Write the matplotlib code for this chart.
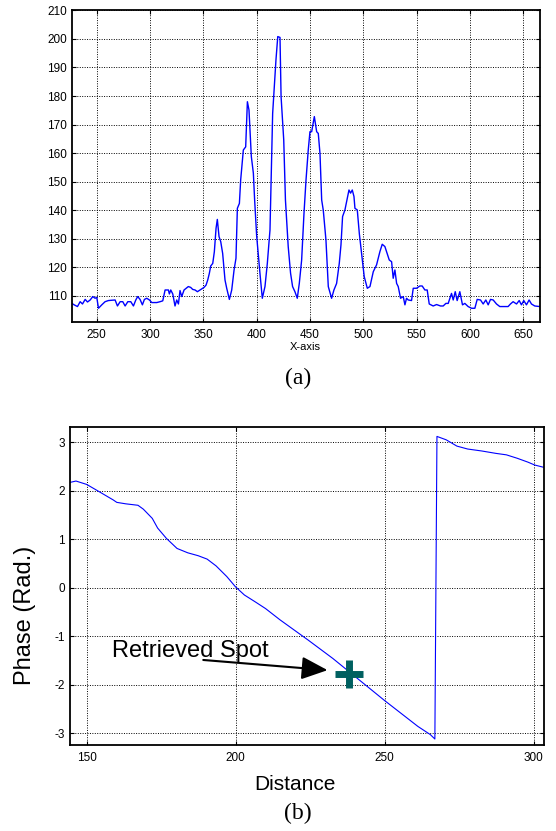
import numpy as np
import matplotlib
matplotlib.use("Agg")
import matplotlib.pyplot as plt

plt.rcParams["font.family"] = ["Liberation Sans", "DejaVu Sans"]
plt.rcParams["axes.unicode_minus"] = False

# (a) intensity profile along the x-axis
profile_x = [226.6, 228.8, 231.9, 234.4, 236.6, 239.1, 241.3, 243.8, 246.3, 248.4,
             250.0, 251.6, 254.7, 257.8, 260.9, 267.2, 269.4, 271.9, 274.4, 276.6,
             279.1, 281.9, 284.4, 286.6, 288.4, 290.6, 292.8, 294.7, 296.9, 299.4,
             301.6, 306.3, 309.4, 311.9, 314.1, 317.2, 318.1, 319.4, 321.3, 323.4,
             325.0, 326.6, 328.1, 329.7, 331.9, 335.9, 338.1, 340.0, 342.2, 344.4,
             346.9, 350.6, 352.5, 354.1, 355.6, 356.9, 358.8, 360.3, 361.9, 363.1,
             364.7, 366.3, 368.1, 370.3, 371.9, 374.4, 376.6, 378.8, 380.6, 381.9,
             383.8, 385.0, 387.5, 389.7, 391.3, 392.8, 395.0, 396.9, 398.1, 400.0,
             403.1, 405.3, 407.8, 410.0, 412.5, 415.0, 418.1, 419.8, 421.9, 422.9,
             425.4, 427.0, 429.6, 431.8, 433.7, 435.9, 438.1, 440.0, 442.2, 444.4,
             446.3, 448.4, 450.0, 451.6, 454.1, 456.3, 457.8, 459.4, 461.0, 462.5,
             465.0, 467.2, 470.3, 472.5, 475.0, 477.5, 479.1, 480.6, 482.8, 485.0,
             486.6, 488.1, 489.7, 491.3, 492.2, 494.4, 496.3, 498.4, 500.9, 503.8,
             506.3, 509.4, 512.5, 515.6, 517.8, 520.3, 521.9, 524.4, 526.6, 528.1,
             529.7, 531.3, 532.8, 535.0, 537.5, 539.1, 540.6, 542.2, 545.3, 546.9,
             550.0, 553.1, 555.3, 557.8, 560.0, 561.9, 565.6, 568.8, 572.5, 575.0,
             577.5, 579.7, 582.8, 584.4, 586.3, 588.1, 590.6, 593.1, 595.3, 598.4,
             601.6, 604.7, 606.9, 610.0, 612.5, 615.0, 617.2, 619.4, 621.9, 625.0,
             628.1, 631.3, 635.9, 638.1, 640.6, 643.8, 646.3, 648.4, 650.6, 653.1,
             655.6, 657.8, 660.9, 665.6]
profile_y = [107.4, 106.9, 106.3, 108.0, 107.2, 108.8, 107.9, 108.6, 109.8, 109.2,
             109.5, 105.7, 106.9, 108.0, 108.4, 108.6, 106.5, 108.0, 108.0, 106.5,
             108.0, 108.0, 106.5, 108.6, 109.8, 108.8, 106.9, 108.8, 109.2, 108.6,
             107.7, 107.7, 108.0, 108.3, 112.1, 112.1, 110.7, 112.1, 110.7, 106.5,
             108.6, 107.2, 111.9, 109.8, 112.1, 113.3, 113.0, 112.3, 112.1, 111.5,
             112.1, 113.0, 113.8, 115.6, 117.9, 120.5, 121.4, 125.5, 133.7, 136.8,
             130.8, 129.0, 124.9, 115.6, 112.7, 108.8, 112.1, 119.1, 123.2, 140.7,
             142.4, 150.6, 161.1, 162.2, 178.0, 175.1, 158.8, 153.0, 143.6, 131.0,
             117.9, 109.2, 113.3, 121.4, 133.1, 173.9, 192.6, 200.8, 200.5, 179.8,
             164.6, 143.6, 127.3, 118.0, 113.3, 111.5, 109.2, 114.4, 122.6, 138.9,
             150.6, 161.1, 167.5, 167.5, 172.8, 167.5, 166.9, 159.9, 143.6, 140.0,
             129.6, 113.3, 109.2, 112.1, 114.4, 121.4, 127.9, 137.8, 140.1, 144.2,
             147.1, 146.0, 147.1, 144.8, 140.7, 140.1, 131.9, 124.9, 116.8, 112.7,
             113.3, 118.5, 120.9, 125.5, 128.1, 127.3, 125.5, 122.6, 122.0, 116.2,
             119.1, 114.4, 113.3, 109.2, 109.8, 106.9, 109.2, 108.6, 108.4, 112.7,
             112.7, 113.5, 113.5, 112.1, 112.1, 107.2, 106.5, 107.0, 106.5, 106.5,
             107.4, 107.4, 110.9, 108.6, 111.5, 108.4, 111.5, 106.9, 107.4, 106.3,
             105.7, 105.7, 108.8, 108.6, 107.2, 108.6, 106.9, 108.8, 108.6, 107.2,
             106.3, 106.3, 106.3, 107.2, 108.0, 107.2, 108.4, 106.9, 108.4, 106.9,
             108.6, 107.2, 106.5, 106.3]

# (b) wrapped phase along the distance
phase_x = [144.3, 146.4, 150.0, 154.2, 158.9, 160.1, 163.1, 167.2, 169.0, 172.0,
           173.8, 176.7, 180.3, 183.9, 187.4, 190.4, 193.4, 197.0, 199.9, 202.9,
           206.5, 210.0, 214.8, 224.3, 232.6, 238.0, 249.8, 261.1, 265.3, 266.8,
           267.5, 270.6, 274.2, 277.8, 282.5, 287.3, 290.8, 294.4, 298.0, 300.3,
           303.5]
phase_y = [2.17, 2.20, 2.13, 1.98, 1.81, 1.76, 1.73, 1.70, 1.62, 1.43,
           1.23, 1.02, 0.81, 0.72, 0.66, 0.59, 0.45, 0.23, 0.02, -0.15,
           -0.29, -0.43, -0.66, -1.08, -1.46, -1.73, -2.32, -2.86, -3.03, -3.12,
           3.12, 3.05, 2.92, 2.86, 2.82, 2.77, 2.74, 2.67, 2.59, 2.53,
           2.48]

spot_x, spot_y = 238.0, -1.77
spot_label = "Retrieved Spot"

fig = plt.figure(figsize=(5.56, 8.31), dpi=100)

# ---- panel (a) ----
ax1 = fig.add_axes([0.129, 0.6122, 0.842, 0.3754])
ax1.plot(profile_x, profile_y, color="#0000ff", lw=1.0)
ax1.set_xlim(226.5, 665.7)
ax1.set_ylim(100.8, 210)
ax1.set_xticks(np.arange(250, 651, 50))
ax1.set_yticks(np.arange(110, 211, 10))
ax1.grid(True, color="black", linestyle=(0, (1, 1.5)), lw=0.7)
ax1.tick_params(direction="in", top=True, right=True, labelsize=8.5,
                length=3, width=0.8)
ax1.tick_params(axis="x", pad=5)
for s in ax1.spines.values():
    s.set_linewidth(1.3)

fig.text(305 / 556, 1 - 347 / 831, "X-axis", fontsize=8, ha="center", va="center")
fig.text(298 / 556, 1 - 378 / 831, "(a)", fontsize=17, ha="center", va="center",
         family="Liberation Serif")

# ---- panel (b) ----
ax2 = fig.add_axes([0.1259, 0.1031, 0.853, 0.3834])
ax2.plot(phase_x, phase_y, color="#0000ff", lw=0.8)
ax2.plot(spot_x, spot_y, marker="+", ms=20, mew=5, color="#006060")
ax2.text(158.5, -1.43, spot_label, fontsize=17, va="baseline", ha="left")
ax2.annotate("", xy=(230.8, -1.70), xytext=(189.1, -1.49),
             arrowprops=dict(arrowstyle="-|>,head_length=0.8,head_width=0.35",
                             mutation_scale=20, lw=1.5, color="black",
                             shrinkA=0, shrinkB=0))
ax2.set_xlim(144.4, 303.5)
ax2.set_ylim(-3.25, 3.32)
ax2.set_xticks([150, 200, 250, 300])
ax2.set_yticks([-3, -2, -1, 0, 1, 2, 3])
ax2.grid(True, color="black", linestyle=(0, (1, 1.5)), lw=0.7)
ax2.tick_params(direction="in", top=True, right=True, labelsize=8.5,
                length=3, width=0.8)
ax2.tick_params(axis="x", pad=5)
for s in ax2.spines.values():
    s.set_linewidth(1.3)

fig.text(25 / 556, 1 - 615 / 831, "Phase (Rad.)", fontsize=17, rotation=90,
         ha="center", va="center")
fig.text(295 / 556, 1 - 784 / 831, "Distance", fontsize=15, ha="center", va="center")
fig.text(298 / 556, 1 - 813 / 831, "(b)", fontsize=17, ha="center", va="center",
         family="Liberation Serif")

fig.savefig("out.png", dpi=100)
